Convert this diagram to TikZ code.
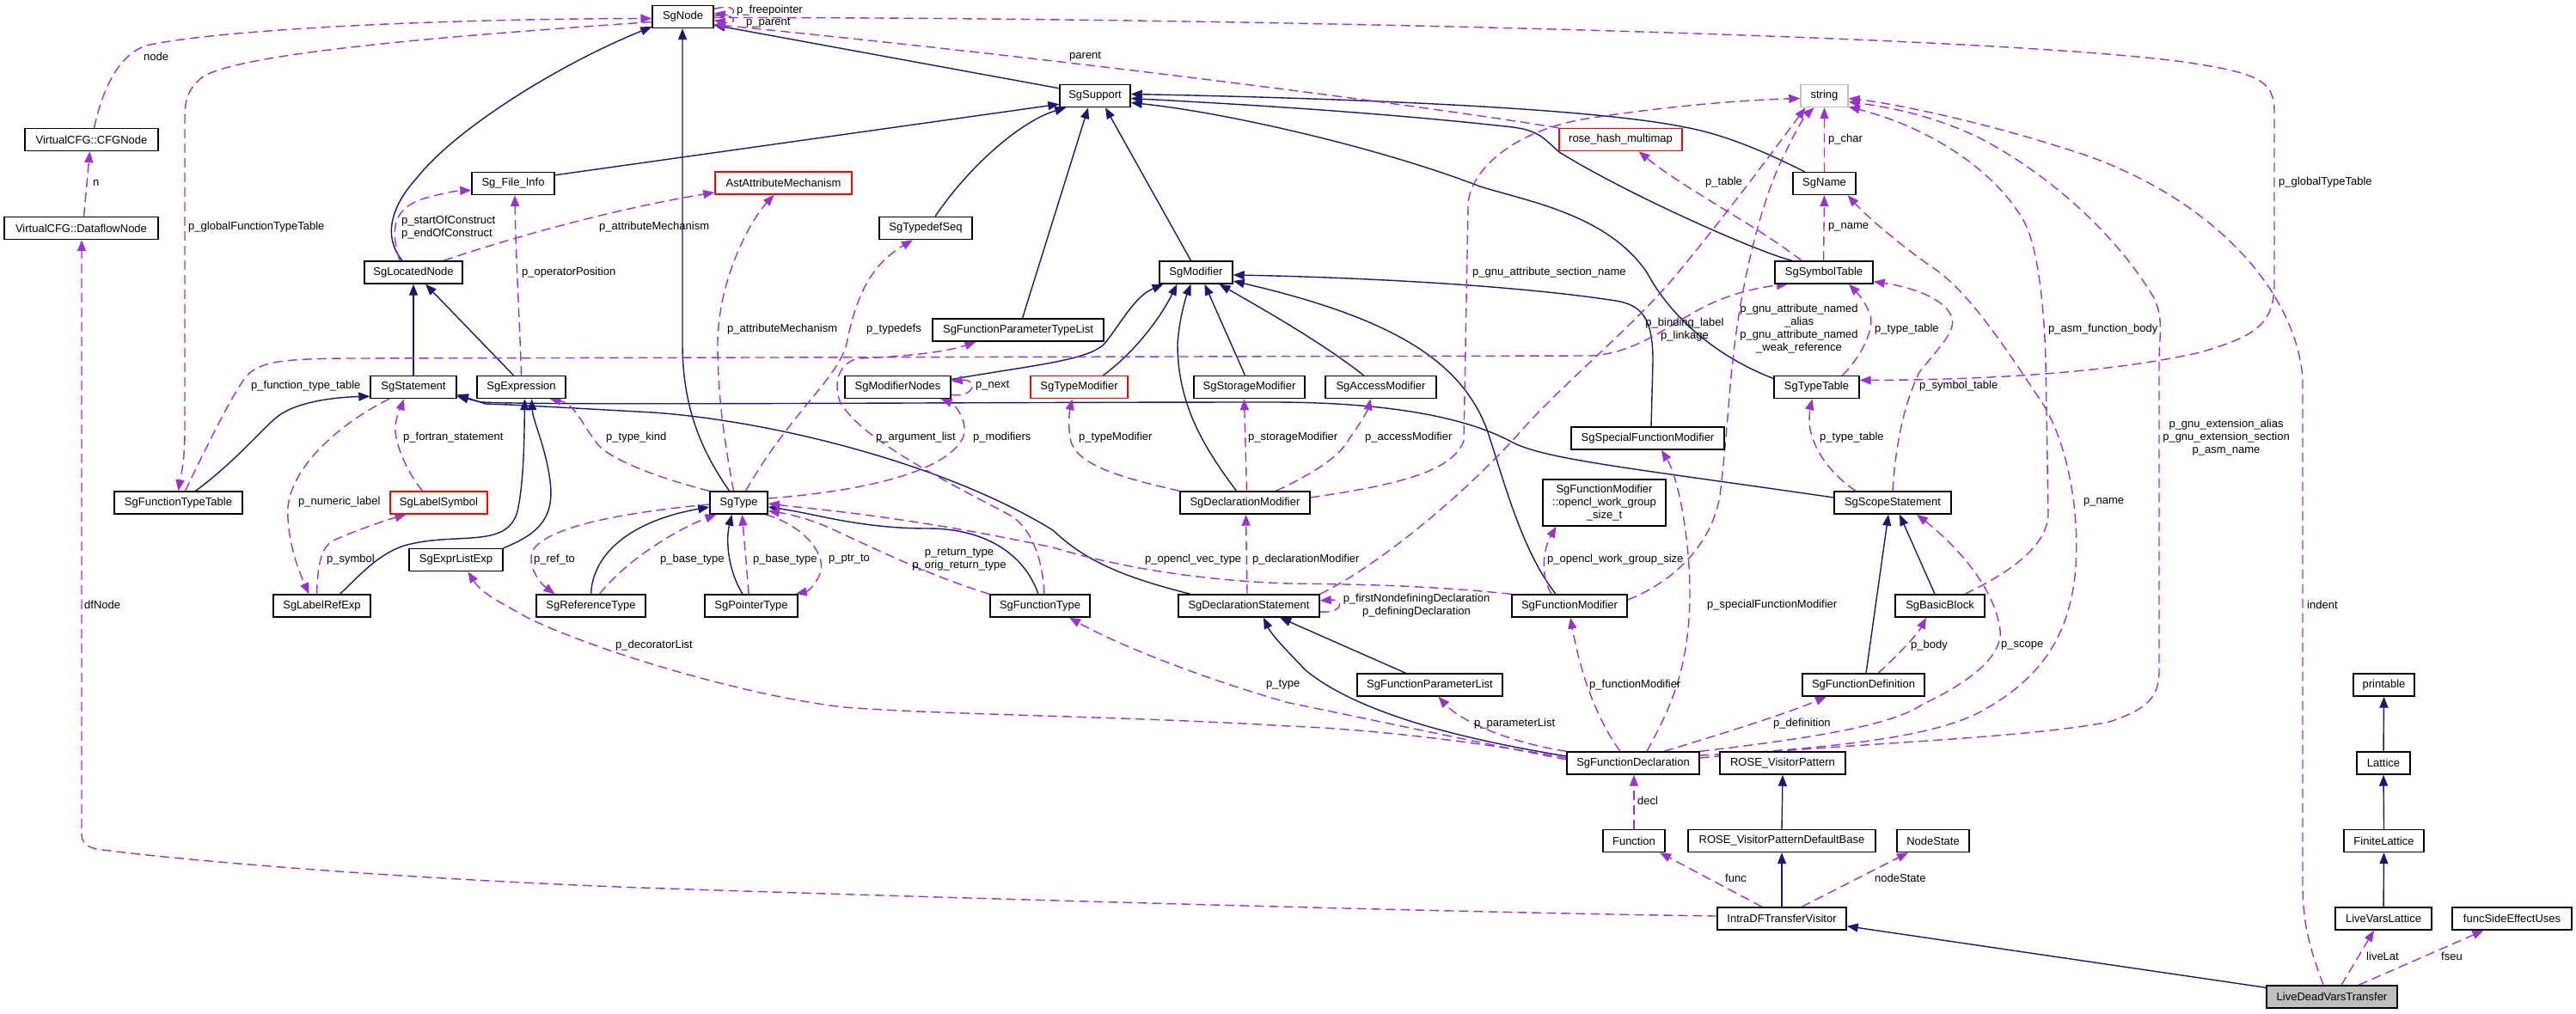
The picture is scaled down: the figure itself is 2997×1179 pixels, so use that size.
\documentclass[tikz,border=0pt]{standalone}
\usepackage{fontspec}
\setmainfont{Liberation Sans}
\usetikzlibrary{arrows.meta}
\definecolor{navy}{HTML}{191970}
\definecolor{purp}{HTML}{9A32CD}
\definecolor{strgray}{HTML}{BFBFBF}
\newcommand{\dxfont}{\fontsize{13}{15}\selectfont}
\pgfdeclarelayer{bg}
\pgfdeclarelayer{edges}
\pgfsetlayers{bg,edges,main}
\begin{document}
\begin{tikzpicture}[x=1pt,y=-1pt,
  cls/.style={draw=black, line width=1.4pt, fill=white, inner sep=0pt, minimum height=26pt, font=\dxfont},
  redcls/.style={cls, draw=red},
  inh/.style={draw=navy, line width=1.4pt, -{Triangle[length=13pt,width=10pt]}},
  use/.style={draw=purp, line width=1.4pt, dash pattern=on 11pt off 6pt, -{Triangle[length=13pt,width=10pt]}},
  lbl/.style={font=\dxfont, inner sep=0pt, anchor=west, align=left},
  lblc/.style={font=\dxfont, inner sep=0pt, align=center}]
\useasboundingbox (0,0) rectangle (2997,1179);
\begin{pgfonlayer}{bg}
\fill[white] (0,0) rectangle (2997,1179);
\end{pgfonlayer}

% ---------------- nodes
\node[cls, minimum width=71pt] (SgNode) at (794.5,19.5) {SgNode};
\node[cls, minimum width=155pt] (CFGNode) at (106.5,162.5) {VirtualCFG::CFGNode};
\node[cls, minimum width=179pt] (DataflowNode) at (94.5,265.5) {VirtualCFG::DataflowNode};
\node[cls, minimum width=96pt] (FileInfo) at (597,213.5) {Sg\_File\_Info};
\node[cls, minimum width=114pt] (SgLocatedNode) at (481,317) {SgLocatedNode};
\node[cls, minimum width=82pt] (SgSupport) at (1274,111.5) {SgSupport};
\node[redcls, minimum width=159pt] (Ast) at (911.5,213) {AstAttributeMechanism};
\node[cls, minimum width=108pt] (SgTypedefSeq) at (1077,265.5) {SgTypedefSeq};
\node[cls, minimum width=85pt] (SgModifier) at (1391.5,317) {SgModifier};
\node[cls, minimum width=199pt] (SgFunctionParameterTypeList) at (1184.5,384) {SgFunctionParameterTypeList};
\node[cls, draw=strgray, minimum width=55pt] (string) at (2122.5,111.5) {string};
\node[redcls, minimum width=143pt] (rose) at (1885.5,162.5) {rose\_hash\_multimap};
\node[cls, minimum width=73pt] (SgName) at (2122.5,213.5) {SgName};
\node[cls, minimum width=114pt] (SgSymbolTable) at (2122,317) {SgSymbolTable};
\node[cls, minimum width=100pt] (SgStatement) at (481,450.5) {SgStatement};
\node[cls, minimum width=103pt] (SgExpression) at (606.5,450.5) {SgExpression};
\node[cls, minimum width=149pt] (SgFunctionTypeTable) at (207.5,585) {SgFunctionTypeTable};
\node[redcls, minimum width=113pt] (SgLabelSymbol) at (510.5,585) {SgLabelSymbol};
\node[cls, minimum width=109pt] (SgExprListExp) at (530.5,651.5) {SgExprListExp};
\node[cls, minimum width=113pt] (SgLabelRefExp) at (374.5,705) {SgLabelRefExp};
\node[cls, minimum width=127pt] (SgReferenceType) at (687.5,705) {SgReferenceType};
\node[cls, minimum width=123pt] (SgModifierNodes) at (1044.5,450.5) {SgModifierNodes};
\node[redcls, minimum width=113pt] (SgTypeModifier) at (1255.5,450.5) {SgTypeModifier};
\node[cls, minimum width=129pt] (SgStorageModifier) at (1453.5,450.5) {SgStorageModifier};
\node[cls, minimum width=129pt] (SgAccessModifier) at (1606.5,450.5) {SgAccessModifier};
\node[cls, minimum width=99pt] (SgTypeTable) at (2113.5,450.5) {SgTypeTable};
\node[cls, minimum width=67pt] (SgType) at (859.5,585) {SgType};
\node[cls, minimum width=108pt] (SgPointerType) at (874,705) {SgPointerType};
\node[cls, minimum width=116pt] (SgFunctionType) at (1210,705) {SgFunctionType};
\node[cls, minimum width=151pt] (SgDeclarationModifier) at (1448.5,585) {SgDeclarationModifier};
\node[cls, minimum width=164pt] (SgDeclarationStatement) at (1453,705) {SgDeclarationStatement};
\node[cls, minimum width=178pt] (SgSpecialFunctionModifier) at (1917,510) {SgSpecialFunctionModifier};
\node[cls, minimum width=143pt, minimum height=54pt, align=center] (opencl) at (1866.5,585) {SgFunctionModifier\\::opencl\_work\_group\\\_size\_t};
\node[cls, minimum width=136pt] (SgScopeStatement) at (2202,585) {SgScopeStatement};
\node[cls, minimum width=134pt] (SgFunctionModifier) at (1826,705) {SgFunctionModifier};
\node[cls, minimum width=104pt] (SgBasicBlock) at (2257,705) {SgBasicBlock};
\node[cls, minimum width=169pt] (SgFunctionParameterList) at (1663.5,797) {SgFunctionParameterList};
\node[cls, minimum width=142pt] (SgFunctionDefinition) at (2168,797) {SgFunctionDefinition};
\node[cls, minimum width=71pt] (printable) at (2773.5,797) {printable};
\node[cls, minimum width=154pt] (SgFunctionDeclaration) at (1900,888) {SgFunctionDeclaration};
\node[cls, minimum width=146pt] (rvp) at (2074,888) {ROSE\_VisitorPattern};
\node[cls, minimum width=72pt] (Function) at (1901,978.5) {Function};
\node[cls, minimum width=218pt] (rvpdb) at (2073,978.5) {ROSE\_VisitorPatternDefaultBase};
\node[cls, minimum width=84pt] (NodeState) at (2249,978.5) {NodeState};
\node[cls, minimum width=150pt] (IntraDF) at (2073,1069) {IntraDFTransferVisitor};
\node[cls, minimum width=62pt] (Lattice) at (2773,888) {Lattice};
\node[cls, minimum width=93pt] (FiniteLattice) at (2773.5,978.5) {FiniteLattice};
\node[cls, minimum width=112pt] (LiveVarsLattice) at (2773,1069) {LiveVarsLattice};
\node[cls, minimum width=139pt] (funcSEU) at (2922.5,1069) {funcSideEffectUses};
\node[cls, fill=strgray, minimum width=152pt] (LDVT) at (2713,1160) {LiveDeadVarsTransfer};

\begin{pgfonlayer}{edges}
% ---------------- inheritance
\draw[inh] ([yshift=-5pt]SgSupport.north west) -- ([yshift=4pt]SgNode.south east);
\draw[inh] ([xshift=-13pt]SgLocatedNode.north) .. controls (445,275) and (455,240) .. (485,207) .. controls (530,150) and (650,75) .. ([yshift=2pt]SgNode.south west);
\draw[inh] ([yshift=-4pt]FileInfo.north east) -- ([yshift=4pt]SgSupport.south west);
\draw[inh] ([xshift=11pt]SgTypedefSeq.north) .. controls (1130,190) and (1190,140) .. ([xshift=8pt]SgSupport.south west);
\draw[inh] ([xshift=5pt]SgFunctionParameterTypeList.north) -- ([xshift=-8pt]SgSupport.south);
\draw[inh] ([xshift=-6pt]SgModifier.north) -- ([xshift=12pt]SgSupport.south);
\draw[inh] ([xshift=-23pt]SgName.north) .. controls (2060,180) and (2010,157) .. (1960,148) .. controls (1850,125) and (1550,114) .. ([yshift=2pt]SgSupport.east);
\draw[inh] ([xshift=-37pt]SgSymbolTable.north) .. controls (2050,295) and (1900,230) .. (1814,177) .. controls (1795,160) and (1790,152) .. (1760,148) .. controls (1600,130) and (1420,120) .. ([yshift=-3pt]SgSupport.east);
\draw[inh] ([yshift=10pt]SgTypeTable.west) .. controls (2010,420) and (1950,380) .. (1916,317) .. controls (1870,250) and (1780,235) .. (1722,217) .. controls (1600,170) and (1420,130) .. ([yshift=-8pt]SgSupport.east);
\draw[inh] (SgStatement.north) -- (SgLocatedNode.south);
\draw[inh] ([xshift=-9pt]SgExpression.north) -- ([xshift=14pt]SgLocatedNode.south);
\draw[inh] ([xshift=-11pt]SgType.north) .. controls (820,530) and (794,480) .. (794,400) -- ([xshift=-0.5pt]SgNode.south);
\draw[inh] ([xshift=20pt]SgFunctionTypeTable.north) .. controls (270,540) and (300,505) .. (320,487) .. controls (345,465) and (400,462) .. ([yshift=3pt]SgStatement.south west);
\draw[inh] ([xshift=21pt]SgLabelRefExp.north) .. controls (420,668) and (440,645) .. (470,635) .. controls (530,618) and (590,640) .. (602,595) .. controls (610,560) and (610,500) .. ([xshift=4pt]SgExpression.south);
\draw[inh] (SgExprListExp.north east) .. controls (630,620) and (645,600) .. (640,560) .. controls (635,520) and (620,490) .. ([xshift=12pt]SgExpression.south);
\draw[inh] ([yshift=6pt]SgScopeStatement.west) .. controls (1900,545) and (1800,535) .. (1760,515) .. controls (1700,482) and (1600,468) .. (1480,468) .. controls (1100,468) and (650,472) .. (560,468) -- ([yshift=3pt]SgStatement.south east);
\draw[inh] ([xshift=-68pt]SgDeclarationStatement.north) .. controls (1300,670) and (1260,650) .. (1225,617) .. controls (1100,540) and (900,490) .. (760,480) .. controls (650,474) and (600,471) .. (565,470) -- ([yshift=5pt]SgStatement.south east);
\draw[inh] ([xshift=-10pt]SgPointerType.north) .. controls (845,660) and (845,625) .. ([xshift=-8pt]SgType.south);
\draw[inh] (SgReferenceType.north) .. controls (690,640) and (740,605) .. ([yshift=-5pt]SgType.west);
\draw[inh] ([xshift=-2pt]SgFunctionType.north) .. controls (1190,640) and (1140,615) .. (1080,615) .. controls (1000,615) and (950,598) .. ([yshift=-5pt]SgType.east);
\draw[inh] ([xshift=-28pt]SgFunctionParameterList.north) -- ([xshift=36pt]SgDeclarationStatement.south);
\draw[inh] ([yshift=8pt]SgFunctionDeclaration.west) .. controls (1700,860) and (1580,830) .. (1519,780) .. controls (1500,760) and (1480,740) .. ([xshift=17pt]SgDeclarationStatement.south);
\draw[inh] ([xshift=3pt]SgFunctionDefinition.north) -- ([xshift=-5pt]SgScopeStatement.south);
\draw[inh] ([xshift=-6pt]SgBasicBlock.north) -- ([xshift=8pt]SgScopeStatement.south);
\draw[inh] ([yshift=9pt]SgModifierNodes.east) .. controls (1200,425) and (1265,420) .. (1285,400) .. controls (1305,375) and (1320,345) .. ([xshift=-38pt]SgModifier.south);
\draw[inh] ([xshift=28pt]SgTypeModifier.north) .. controls (1320,410) and (1350,370) .. ([xshift=-22pt]SgModifier.south);
\draw[inh] ([xshift=-10pt]SgDeclarationModifier.north) .. controls (1400,520) and (1370,470) .. (1370,400) .. controls (1372,370) and (1380,345) .. ([xshift=-6pt]SgModifier.south);
\draw[inh] ([xshift=-5pt]SgStorageModifier.north) -- ([xshift=10pt]SgModifier.south);
\draw[inh] ([xshift=-20pt]SgAccessModifier.north) .. controls (1540,400) and (1470,360) .. ([xshift=27pt]SgModifier.south);
\draw[inh] ([xshift=-16pt]SgFunctionModifier.north) .. controls (1770,640) and (1750,560) .. (1730,500) .. controls (1700,420) and (1620,370) .. ([yshift=-10pt]SgModifier.east);
\draw[inh] ([xshift=4pt]SgSpecialFunctionModifier.north) -- (1923,420) .. controls (1923,370) and (1910,355) .. (1880,350) .. controls (1750,330) and (1550,322) .. ([yshift=-3pt]SgModifier.east);
\draw[inh] (rvpdb.north) -- (rvp.south);
\draw[inh] (IntraDF.north) -- (rvpdb.south);
\draw[inh] ([yshift=-3pt]LDVT.north west) -- ([yshift=5pt]IntraDF.south east);
\draw[inh] (LiveVarsLattice.north) -- (FiniteLattice.south);
\draw[inh] (FiniteLattice.north) -- (Lattice.south);
\draw[inh] (Lattice.north) -- (printable.south);

% ---------------- usage
\draw[use] ([xshift=3pt]CFGNode.north) .. controls (118,110) and (135,65) .. (170,53) .. controls (250,35) and (500,22) .. ([yshift=-2pt]SgNode.west);
\draw[use] ([xshift=3pt]DataflowNode.north) -- ([xshift=-2pt]CFGNode.south);
\draw[use] ([yshift=-6pt]SgNode.west) .. controls (550,40) and (280,60) .. (235,90) .. controls (218,105) and (215,115) .. (215,140) -- (215,500) .. controls (215,540) and (210,555) .. (SgFunctionTypeTable.north);
\draw[use] ([yshift=9pt]SgNode.east) .. controls +(28,-8) and +(28,4) .. ([yshift=4pt]SgNode.east);
\draw[use] ([yshift=1pt]SgNode.east) .. controls +(28,-4) and +(28,6) .. ([yshift=-4pt]SgNode.east);
\draw[use] (rose.north west) .. controls (1700,130) and (1300,75) .. ([yshift=-9pt]SgNode.east);
\draw[use] ([yshift=-1pt]SgNode.east) .. controls (1400,20) and (2300,40) .. (2540,72) .. controls (2630,85) and (2646,95) .. (2646,130) -- (2646,330) .. controls (2646,380) and (2620,392) .. (2560,410) .. controls (2450,435) and (2300,442) .. ([yshift=8pt]SgTypeTable.east);
\draw[use] ([xshift=-16pt]SgLocatedNode.north) .. controls (455,270) and (455,245) .. (490,232) .. controls (510,226) and (530,222) .. ([yshift=-8pt]FileInfo.west);
\draw[use] ([xshift=35pt]SgLocatedNode.north) .. controls (600,275) and (720,242) .. ([yshift=-11pt]Ast.west);
\draw[use] (SgExpression.north) .. controls (605,380) and (600,300) .. ([xshift=2pt]FileInfo.south);
\draw[use] ([xshift=-6pt]SgType.north) .. controls (840,500) and (835,450) .. (835,400) .. controls (835,330) and (870,260) .. ([xshift=-11pt]Ast.south);
\draw[use] ([xshift=8pt]SgType.north) .. controls (920,480) and (975,440) .. (985,400) .. controls (995,350) and (1010,310) .. ([xshift=-15pt]SgTypedefSeq.south);
\draw[use] ([xshift=5pt]SgFunctionType.north) .. controls (1213,650) and (1200,615) .. (1176,600) .. controls (1100,560) and (1000,510) .. (977,467) .. controls (968,440) and (980,420) .. (1000,417) .. controls (1050,415) and (1100,410) .. ([xshift=-49pt]SgFunctionParameterTypeList.south);
\draw[use] ([yshift=5pt]SgType.east) .. controls (1000,572) and (1100,550) .. (1120,510) .. controls (1128,490) and (1110,470) .. ([xshift=50pt]SgModifierNodes.south);
\draw[use] ([yshift=-9pt]SgModifierNodes.east) .. controls +(30,3) and +(30,-3) .. ([yshift=7pt]SgModifierNodes.east);
\draw[use] (SgDeclarationModifier.north west) .. controls (1300,555) and (1250,540) .. (1245,510) .. controls (1242,490) and (1245,475) .. ([xshift=-8pt]SgTypeModifier.south);
\draw[use] ([xshift=2pt]SgDeclarationModifier.north) -- ([xshift=-6pt]SgStorageModifier.south);
\draw[use] ([xshift=36pt]SgDeclarationModifier.north) .. controls (1530,550) and (1560,530) .. (1570,510) .. controls (1585,490) and (1592,475) .. ([xshift=-12pt]SgAccessModifier.south);
\draw[use] ([yshift=6pt]SgDeclarationModifier.east) .. controls (1620,565) and (1690,550) .. (1703,513) -- (1708,240) .. controls (1708,200) and (1760,150) .. (1853,137) .. controls (1950,122) and (2040,116) .. ([yshift=-3pt]string.west);
\draw[use] ([xshift=-2pt]SgDeclarationStatement.north) -- ([xshift=1pt]SgDeclarationModifier.south);
\draw[use] ([yshift=-7pt]SgDeclarationStatement.east) .. controls +(28,2) and +(28,-2) .. ([yshift=6pt]SgDeclarationStatement.east);
\draw[use] ([xshift=-21pt]SgFunctionModifier.north) .. controls (1792,670) and (1795,640) .. ([xshift=-56pt]opencl.south);
\draw[use] (SgFunctionModifier.north west) .. controls (1650,680) and (1560,680) .. (1500,679) .. controls (1400,676) and (1300,660) .. (1225,637) .. controls (1050,600) and (950,593) .. ([yshift=-1pt]SgType.east);
\draw[use] (SgFunctionType.north west) .. controls (1080,670) and (1000,630) .. (960,612) .. controls (930,600) and (910,597) .. ([yshift=4pt]SgType.south east);
\draw[use] ([xshift=-3pt]SgType.south east) .. controls (930,610) and (960,640) .. (955,665) .. controls (950,680) and (940,688) .. ([xshift=-3pt]SgPointerType.north east);
\draw[use] ([xshift=-3pt]SgPointerType.north) .. controls (868,650) and (865,620) .. ([xshift=4pt]SgType.south);
\draw[use] ([xshift=10pt]SgReferenceType.north) .. controls (730,650) and (790,615) .. ([xshift=-26pt]SgType.south);
\draw[use] ([yshift=-2pt]SgType.west) .. controls (740,595) and (640,610) .. (620,640) .. controls (612,660) and (630,680) .. ([xshift=-42pt]SgReferenceType.north);
\draw[use] (SgType.north west) .. controls (780,560) and (720,540) .. (698,520) .. controls (680,500) and (670,470) .. ([xshift=33pt]SgExpression.south);
\draw[use] ([xshift=-19pt]SgLabelSymbol.north) .. controls (470,545) and (458,510) .. (460,495) .. controls (462,480) and (468,470) .. ([xshift=-11pt]SgStatement.south);
\draw[use] ([xshift=-28pt]SgStatement.south) .. controls (400,490) and (340,540) .. (335,590) .. controls (333,630) and (350,670) .. ([xshift=-15pt]SgLabelRefExp.north);
\draw[use] ([xshift=-6pt]SgLabelRefExp.north) .. controls (370,650) and (375,635) .. (390,628) .. controls (420,615) and (450,605) .. ([xshift=-38pt]SgLabelSymbol.south);
\draw[use] ([xshift=8pt]SgFunctionTypeTable.north) .. controls (240,520) and (270,460) .. (285,440) .. controls (300,420) and (330,418) .. (400,417) -- (1850,414) .. controls (1900,412) and (1940,380) .. (1965,367) .. controls (2000,345) and (2040,335) .. ([xshift=-42pt]SgSymbolTable.south);
\draw[use] ([yshift=6pt]SgFunctionDeclaration.west) .. controls (1700,860) and (1580,848) .. (1500,845) .. controls (1300,833) and (1100,832) .. (982,823) .. controls (870,810) and (700,760) .. (616,720) .. controls (580,700) and (560,690) .. ([xshift=14pt]SgExprListExp.south);
\draw[use] ([yshift=4pt]SgFunctionDeclaration.west) .. controls (1700,860) and (1560,830) .. (1500,818) .. controls (1400,790) and (1300,750) .. ([xshift=34pt]SgFunctionType.south);
\draw[use] (SgFunctionDeclaration.north west) .. controls (1760,865) and (1700,840) .. ([xshift=10pt]SgFunctionParameterList.south);
\draw[use] ([xshift=-15pt]SgFunctionDeclaration.north) .. controls (1860,840) and (1840,790) .. ([xshift=1pt]SgFunctionModifier.south);
\draw[use] ([xshift=16pt]SgFunctionDeclaration.north) .. controls (1940,830) and (1960,790) .. (1965,720) .. controls (1970,650) and (1955,560) .. ([xshift=16pt]SgSpecialFunctionModifier.south);
\draw[use] ([xshift=36pt]SgFunctionDeclaration.north) .. controls (2000,855) and (2080,830) .. ([xshift=-43pt]SgFunctionDefinition.south);
\draw[use] (SgFunctionDeclaration.north east) .. controls (2100,860) and (2200,845) .. (2236,820) .. controls (2300,790) and (2330,760) .. (2327,733) .. controls (2320,680) and (2270,630) .. ([xshift=28pt]SgScopeStatement.south);
\draw[use] ([yshift=9pt]SgFunctionDeclaration.east) .. controls (2150,870) and (2260,855) .. (2310,825) .. controls (2390,780) and (2410,720) .. (2415,660) .. controls (2420,580) and (2400,500) .. (2370,460) .. controls (2330,400) and (2290,340) .. (2251,313) .. controls (2210,285) and (2170,250) .. ([xshift=-10pt]SgName.south east);
\draw[use] ([yshift=6pt]SgFunctionDeclaration.east) .. controls (2150,865) and (2350,860) .. (2454,840) .. controls (2500,825) and (2512,810) .. (2512,780) -- (2512,420) .. controls (2512,390) and (2518,370) .. (2505,345) .. controls (2460,270) and (2380,200) .. (2302,160) .. controls (2250,135) and (2200,125) .. ([yshift=-7pt]string.east);
\draw[use] ([xshift=29pt]SgBasicBlock.north) .. controls (2330,670) and (2380,640) .. (2383,600) -- (2380,420) .. controls (2378,350) and (2370,280) .. (2352,253) .. controls (2320,200) and (2250,150) .. ([yshift=1pt]string.south east);
\draw[use] ([xshift=-10pt]LDVT.north) .. controls (2690,1110) and (2679,1080) .. (2679,1030) -- (2679,440) .. controls (2670,330) and (2560,220) .. (2403,173) .. controls (2300,140) and (2200,120) .. ([yshift=-3pt]string.east);
\draw[use] (SgName.north) -- (string.south);
\draw[use] ([xshift=-0.5pt]SgSymbolTable.north) -- (SgName.south);
\draw[use] ([xshift=-26pt]SgSymbolTable.north) .. controls (2040,260) and (1960,220) .. ([xshift=21pt]rose.south);
\draw[use] (SgDeclarationStatement.north east) .. controls (1600,660) and (1700,580) .. (1771,500) .. controls (1820,445) and (1900,380) .. (1950,320) .. controls (2000,260) and (2060,180) .. ([xshift=-22pt]string.south);
\draw[use] ([yshift=7pt]SgFunctionModifier.east) .. controls (1940,680) and (1990,640) .. (2001,577) .. controls (2010,500) and (2012,450) .. (2016,420) .. controls (2025,330) and (2050,230) .. (2076,180) .. controls (2090,150) and (2100,135) .. ([xshift=-12pt]string.south);
\draw[use] (SgScopeStatement.north) .. controls (2205,520) and (2215,470) .. (2233,433) .. controls (2260,400) and (2275,385) .. (2271,370) .. controls (2265,350) and (2230,335) .. ([yshift=3pt]SgSymbolTable.south east);
\draw[use] ([xshift=-43pt]SgScopeStatement.north) .. controls (2120,545) and (2105,510) .. (2105,490) .. controls (2105,478) and (2107,470) .. ([xshift=-5pt]SgTypeTable.south);
\draw[use] ([xshift=30pt]SgTypeTable.north) .. controls (2170,410) and (2180,380) .. (2176,367) .. controls (2170,350) and (2160,340) .. ([xshift=29pt]SgSymbolTable.south);
\draw[use] ([xshift=17pt]SgFunctionDefinition.north) .. controls (2200,770) and (2230,740) .. ([xshift=-16pt]SgBasicBlock.south);
\draw[use] (Function.north) -- ([xshift=1pt]SgFunctionDeclaration.south);
\draw[use] ([xshift=-23pt]IntraDF.north) -- ([xshift=30pt]Function.south);
\draw[use] ([xshift=23pt]IntraDF.north) -- ([xshift=-29pt]NodeState.south);
\draw[use] ([yshift=3pt]IntraDF.west) .. controls (1700,1062) and (1100,1045) .. (745,1033) .. controls (450,1022) and (200,1000) .. (112,988) .. controls (100,985) and (95,980) .. (95,970) -- ([xshift=0.5pt]DataflowNode.south);
\draw[use] ([xshift=11pt]LDVT.north) -- ([xshift=-11pt]LiveVarsLattice.south);
\draw[use] ([xshift=31pt]LDVT.north) -- ([xshift=-33pt]funcSEU.south);
\end{pgfonlayer}

% ---------------- labels
\node[lbl] (l1) at (167,66) {node};
\node[lbl] (l2) at (108,213) {n};
\node[lbl] (l3) at (219,264) {p\_globalFunctionTypeTable};
\node[lbl] (l4) at (857,12) {p\_freepointer};
\node[lbl] (l5) at (868,27) {p\_parent};
\node[lbl] (l6) at (1244,66) {parent};
\node[lbl] (l7) at (2651,212) {p\_globalTypeTable};
\node[lbl] (l8) at (467,264.5) {p\_startOfConstruct\\p\_endOfConstruct};
\node[lbl] (l9) at (697,264) {p\_attributeMechanism};
\node[lbl] (l10) at (607,317) {p\_operatorPosition};
\node[lbl] (l11) at (846,383) {p\_attributeMechanism};
\node[lbl] (l12) at (1008,383) {p\_typedefs};
\node[lbl] (l13) at (2127,162) {p\_char};
\node[lbl] (l14) at (1984,212) {p\_table};
\node[lbl] (l15) at (2127,264) {p\_name};
\node[lbl] (l16) at (1713,317) {p\_gnu\_attribute\_section\_name};
\node[lblc] (l17) at (1960,383.5) {p\_binding\_label\\p\_linkage};
\node[lblc] (l18) at (2093,383) {p\_gnu\_attribute\_named\\\_alias\\p\_gnu\_attribute\_named\\\_weak\_reference};
\node[lbl] (l19) at (2181,383) {p\_type\_table};
\node[lbl] (l20) at (2383,383) {p\_asm\_function\_body};
\node[lbl] (l21) at (292,449) {p\_function\_type\_table};
\node[lbl] (l22) at (469,509) {p\_fortran\_statement};
\node[lbl] (l23) at (347,584) {p\_numeric\_label};
\node[lbl] (l24) at (380,651) {p\_symbol};
\node[lbl] (l25) at (621,651) {p\_ref\_to};
\node[lbl] (l26) at (98,704) {dfNode};
\node[lbl] (l27) at (705,509) {p\_type\_kind};
\node[lbl] (l28) at (716,751) {p\_decoratorList};
\node[lbl] (l29) at (1135,449) {p\_next};
\node[lbl] (l30) at (1019,509) {p\_argument\_list};
\node[lbl] (l31) at (1132,509) {p\_modifiers};
\node[lbl] (l32) at (1255,509) {p\_typeModifier};
\node[lbl] (l33) at (1452,509) {p\_storageModifier};
\node[lbl] (l34) at (768,651) {p\_base\_type};
\node[lbl] (l35) at (876,651) {p\_base\_type};
\node[lbl] (l36) at (964,651) {p\_ptr\_to};
\node[lblc] (l37) at (1116,651.5) {p\_return\_type\\p\_orig\_return\_type};
\node[lbl] (l38) at (1332,651) {p\_opencl\_vec\_type};
\node[lbl] (l39) at (1457,651) {p\_declarationModifier};
\node[lbl] (l40) at (1473,797) {p\_type};
\node[lbl] (l41) at (1588,509) {p\_accessModifier};
\node[lbl] (l42) at (2117,509) {p\_type\_table};
\node[lbl] (l43) at (2233,449) {p\_symbol\_table};
\node[lbl] (l44) at (1800,651) {p\_opencl\_work\_group\_size};
\node[lblc] (l45) at (1648,704.5) {p\_firstNondefiningDeclaration\\p\_definingDeclaration};
\node[lbl] (l46) at (1986,704) {p\_specialFunctionModifier};
\node[lbl] (l47) at (1849,797) {p\_functionModifier};
\node[lbl] (l48) at (2223,751) {p\_body};
\node[lbl] (l49) at (2424,584) {p\_name};
\node[lblc] (l50) at (2590,509.5) {p\_gnu\_extension\_alias\\p\_gnu\_extension\_section\\p\_asm\_name};
\node[lbl] (l51) at (2684,704) {indent};
\node[lbl] (l52) at (2328,751) {p\_scope};
\node[lbl] (l53) at (1715,842) {p\_parameterList};
\node[lbl] (l54) at (2063,842) {p\_definition};
\node[lbl] (l55) at (1905,932) {decl};
\node[lbl] (l56) at (2007,1022) {func};
\node[lbl] (l57) at (2181,1022) {nodeState};
\node[lbl] (l58) at (2753,1113) {liveLat};
\node[lbl] (l59) at (2840,1113) {fseu};
\end{tikzpicture}
\end{document}
